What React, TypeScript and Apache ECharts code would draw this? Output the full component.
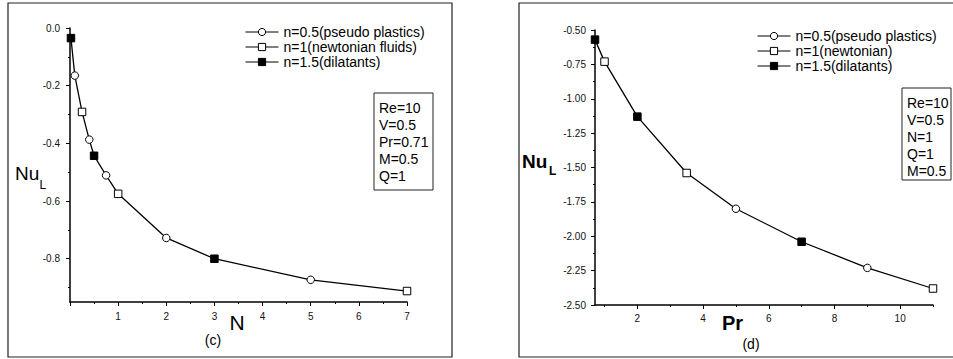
import React, { useEffect, useRef } from 'react';
import * as echarts from 'echarts';

// ---- data: panel (c) NuL vs N ----
const leftCircles = [[0.1, -0.165], [0.4, -0.387], [0.75, -0.511], [2, -0.728], [5, -0.873]];
const leftSquares = [[0.25, -0.291], [1, -0.575], [7, -0.912]];
const leftFilled = [[0.02, -0.035], [0.5, -0.443], [3, -0.8]];
// ---- data: panel (d) NuL vs Pr ----
const rightCircles = [[5, -1.8], [9, -2.23]];
const rightSquares = [[1, -0.73], [3.5, -1.54], [11, -2.38]];
const rightFilled = [[0.71, -0.57], [2, -1.13], [7, -2.04]];

// ---- ticks ----
const leftYLabels = [0, -0.2, -0.4, -0.6, -0.8];
const leftYMinor = [-0.1, -0.3, -0.5, -0.7, -0.9];
const rightXLabels = [2, 4, 6, 8, 10];
const rightXMinor = [1, 3, 5, 7, 9, 11];

// ---- texts ----
const leftNames = ['n=0.5(pseudo plastics)', 'n=1(newtonian fluids)', 'n=1.5(dilatants)'];
const rightNames = ['n=0.5(pseudo plastics)', 'n=1(newtonian)', 'n=1.5(dilatants)'];
const leftParams = ['Re=10', 'V=0.5', 'Pr=0.71', 'M=0.5', 'Q=1'];
const rightParams = ['Re=10', 'V=0.5', 'N=1', 'Q=1', 'M=0.5'];

const FONT = 'Arial, "Liberation Sans", Helvetica, sans-serif';

const sortPts = (...arrs: number[][][]) =>
  ([] as number[][]).concat(...arrs).sort((a, b) => a[0] - b[0]);

const axisLineStyle = { show: true, onZero: false, lineStyle: { color: '#000', width: 1.5 } };
const noLine = { show: false, onZero: false };
const labelStyle = { color: '#111', fontSize: 10, fontFamily: FONT };
const tickLine = { color: '#000', width: 1 };

const openStyle = { color: '#fff', borderColor: '#000', borderWidth: 1 };
const filledStyle = { color: '#000', borderColor: '#000', borderWidth: 1 };

function markerSeries(name: string, data: number[][], symbol: string, filled: boolean, xi: number, yi: number) {
  return {
    type: 'line',
    name,
    data,
    xAxisIndex: xi,
    yAxisIndex: yi,
    symbol,
    symbolSize: 7.5,
    showAllSymbol: true,
    lineStyle: { width: 0, opacity: 0, color: '#000' },
    itemStyle: filled ? filledStyle : openStyle,
    silent: true,
    z: 3,
  };
}

function curveSeries(data: number[][], xi: number, yi: number) {
  return {
    type: 'line',
    name: 'curve',
    data,
    xAxisIndex: xi,
    yAxisIndex: yi,
    symbol: 'none',
    lineStyle: { color: '#000', width: 1.3 },
    silent: true,
    z: 2,
  };
}

function paramBox(x: number, y: number, w: number, h: number, lines: string[], step: number, firstY: number) {
  const children: any[] = [
    { type: 'rect', shape: { x, y, width: w, height: h }, style: { fill: '#fff', stroke: '#222', lineWidth: 1 } },
  ];
  lines.forEach((t, i) => {
    children.push({
      type: 'text',
      x: x + 5,
      y: firstY + i * step,
      style: { text: t, font: `14px ${FONT}`, fill: '#000', textVerticalAlign: 'middle' },
    });
  });
  return children;
}

export default function App() {
  const ref = useRef<HTMLDivElement>(null);
  useEffect(() => {
    if (!ref.current) return;
    const chart = echarts.init(ref.current, undefined, { renderer: 'svg' });
    const legendBase = {
      orient: 'vertical',
      itemWidth: 33,
      itemHeight: 9,
      itemGap: 1,
      selectedMode: false,
      textStyle: { fontSize: 14, fontFamily: FONT, color: '#000' },
      lineStyle: { color: '#000', width: 1, opacity: 1 },
      itemStyle: { borderWidth: 1, borderColor: '#000' },
    };
    const option: any = {
      animation: false,
      backgroundColor: '#fff',
      grid: [
        { left: 70, top: 28, width: 337, height: 274 },
        { left: 595, top: 30, width: 338, height: 275 },
      ],
      legend: [
        { ...legendBase, left: 240, top: 20, data: leftNames },
        { ...legendBase, left: 752, top: 24, data: rightNames },
      ],
      xAxis: [
        {
          type: 'value', gridIndex: 0, min: 0, max: 7, interval: 1,
          axisLine: axisLineStyle,
          axisTick: { show: true, length: 4, lineStyle: tickLine },
          minorTick: { show: true, splitNumber: 2, length: 2, lineStyle: tickLine },
          axisLabel: { ...labelStyle, margin: 9, formatter: (v: number) => (v === 0 ? '' : String(v)) },
          splitLine: { show: false },
        },
        {
          type: 'value', gridIndex: 1, min: 0.71, max: 11, position: 'bottom',
          axisLine: axisLineStyle,
          axisTick: { show: true, length: 4, customValues: rightXLabels, lineStyle: tickLine },
          axisLabel: { ...labelStyle, margin: 8, customValues: rightXLabels },
          splitLine: { show: false },
        },
        {
          type: 'value', gridIndex: 1, min: 0.71, max: 11, position: 'bottom',
          axisLine: noLine,
          axisTick: { show: true, length: 2, customValues: rightXMinor, lineStyle: tickLine },
          axisLabel: { show: false },
          splitLine: { show: false },
        },
      ],
      yAxis: [
        {
          type: 'value', gridIndex: 0, min: -0.95, max: 0, position: 'left',
          axisLine: axisLineStyle,
          axisTick: { show: true, length: 4, customValues: leftYLabels, lineStyle: tickLine },
          axisLabel: { ...labelStyle, margin: 10, customValues: leftYLabels, formatter: (v: number) => v.toFixed(1) },
          splitLine: { show: false },
        },
        {
          type: 'value', gridIndex: 0, min: -0.95, max: 0, position: 'left',
          axisLine: noLine,
          axisTick: { show: true, length: 2, customValues: leftYMinor, lineStyle: tickLine },
          axisLabel: { show: false },
          splitLine: { show: false },
        },
        {
          type: 'value', gridIndex: 1, min: -2.5, max: -0.5, interval: 0.25, position: 'left',
          axisLine: axisLineStyle,
          axisTick: { show: true, length: 4, lineStyle: tickLine },
          minorTick: { show: true, splitNumber: 2, length: 2, lineStyle: tickLine },
          axisLabel: { ...labelStyle, margin: 9, formatter: (v: number) => v.toFixed(2) },
          splitLine: { show: false },
        },
      ],
      series: [
        curveSeries(sortPts(leftCircles, leftSquares, leftFilled), 0, 0),
        markerSeries(leftNames[0], leftCircles, 'circle', false, 0, 0),
        markerSeries(leftNames[1], leftSquares, 'rect', false, 0, 0),
        markerSeries(leftNames[2], leftFilled, 'rect', true, 0, 0),
        curveSeries(sortPts(rightCircles, rightSquares, rightFilled), 1, 2),
        markerSeries(rightNames[0], rightCircles, 'circle', false, 1, 2),
        markerSeries(rightNames[1], rightSquares, 'rect', false, 1, 2),
        markerSeries(rightNames[2], rightFilled, 'rect', true, 1, 2),
      ],
      graphic: [
        // panel frames
        { type: 'rect', shape: { x: 8, y: 3, width: 444, height: 354 }, style: { fill: 'none', stroke: '#222', lineWidth: 1.2 }, z: -1 },
        { type: 'rect', shape: { x: 519, y: 3, width: 440, height: 354 }, style: { fill: 'none', stroke: '#222', lineWidth: 1.2 }, z: -1 },
        // parameter boxes
        ...paramBox(374, 93, 59, 97, leftParams, 17, 108),
        ...paramBox(902, 88, 49, 92, rightParams, 17, 103),
        // left axis titles
        { type: 'text', x: 15, y: 183, style: { text: 'Nu', font: `19px ${FONT}`, fill: '#000', textVerticalAlign: 'bottom' } },
        { type: 'text', x: 39.5, y: 191, style: { text: 'L', font: `12px ${FONT}`, fill: '#000', textVerticalAlign: 'bottom' } },
        { type: 'text', x: 237, y: 322, style: { text: 'N', font: `21px ${FONT}`, fill: '#000', textAlign: 'center', textVerticalAlign: 'middle' } },
        { type: 'text', x: 213, y: 340, style: { text: '(c)', font: `14px ${FONT}`, fill: '#000', textAlign: 'center', textVerticalAlign: 'middle' } },
        // right axis titles
        { type: 'text', x: 522, y: 171, style: { text: 'Nu', font: `bold 19px ${FONT}`, fill: '#000', textVerticalAlign: 'bottom' } },
        { type: 'text', x: 549, y: 177, style: { text: 'L', font: `bold 12px ${FONT}`, fill: '#000', textVerticalAlign: 'bottom' } },
        { type: 'text', x: 732.5, y: 322.5, style: { text: 'Pr', font: `bold 20px ${FONT}`, fill: '#000', textAlign: 'center', textVerticalAlign: 'middle' } },
        { type: 'text', x: 751, y: 344, style: { text: '(d)', font: `14px ${FONT}`, fill: '#000', textAlign: 'center', textVerticalAlign: 'middle' } },
      ],
    };
    chart.setOption(option);
    return () => chart.dispose();
  }, []);
  return (
    <div
      ref={ref}
      style={{ position: 'fixed', left: 0, top: 0, width: 953, height: 359, background: '#fff' }}
    />
  );
}
